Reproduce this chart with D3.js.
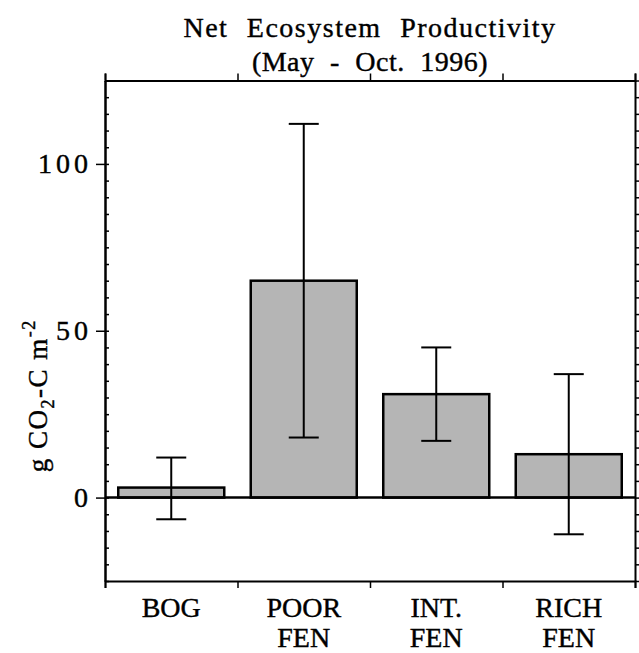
<!DOCTYPE html>
<meta charset="utf-8">
<style>
body { margin: 0; background: #fff; }
svg text { font-family: "Liberation Serif", "Times New Roman", serif; fill: #000; stroke: #000; stroke-width: 0.4px; }
</style>
<svg id="chart" width="639" height="653"></svg>
<script src="https://cdn.jsdelivr.net/npm/d3@7"></script>
<script>

// values
var sites = ["BOG", "POOR FEN", "INT. FEN", "RICH FEN"];
var siteLines = [["BOG"], ["POOR", "FEN"], ["INT.", "FEN"], ["RICH", "FEN"]];
var nep = [3, 65, 31, 13];
var errTop = [12, 112, 45, 37];
var errBottom = [-6.5, 18, 17, -11];
var majorTicks = [0, 50, 100];

var svg = d3.select("#chart"),
    margin = {top: 80.5, right: 4, bottom: 72, left: 105},
    width = +svg.attr("width") - margin.left - margin.right,
    height = +svg.attr("height") - margin.top - margin.bottom;

var x = d3.scaleBand()
    .domain(sites)
    .range([0, width])
    .paddingInner(0.2)
    .paddingOuter(0.1);

// edges of the category cells, for the top/bottom tick marks
var xEdge = d3.scaleLinear().domain([0, sites.length]).range([0, width]);

var y = d3.scaleLinear()
    .domain([-25, 125])
    .range([height, 0]);

var defs = svg.append("defs");
var pat = defs.append("pattern")
    .attr("id", "stipple")
    .attr("width", 2).attr("height", 2)
    .attr("patternUnits", "userSpaceOnUse");
pat.append("rect").attr("width", 2).attr("height", 2).attr("fill", "#dcdcdc");
pat.append("rect").attr("width", 1).attr("height", 1).attr("fill", "#8e8e8e");
pat.append("rect").attr("x", 1).attr("y", 1).attr("width", 1).attr("height", 1).attr("fill", "#8e8e8e");

var g = svg.append("g")
    .attr("transform", "translate(" + margin.left + "," + margin.top + ")");

// title, two lines
var cx = margin.left + width / 2;
svg.append("text")
    .attr("x", cx).attr("y", 37)
    .attr("text-anchor", "middle")
    .style("font-size", "28px")
    .style("letter-spacing", "1.5px")
    .style("word-spacing", "10px")
    .text("Net Ecosystem Productivity");
svg.append("text")
    .attr("x", cx).attr("y", 71)
    .attr("text-anchor", "middle")
    .style("font-size", "28px")
    .style("letter-spacing", "0.5px")
    .style("word-spacing", "8px")
    .text("(May - Oct. 1996)");

// bars
g.selectAll(".bar")
    .data(nep)
  .enter().append("rect")
    .attr("class", "bar")
    .attr("x", function(d, i) { return x(sites[i]); })
    .attr("width", x.bandwidth())
    .attr("y", function(d) { return y(Math.max(0, d)); })
    .attr("height", function(d) { return Math.abs(y(d) - y(0)); })
    .attr("fill", "url(#stipple)")
    .attr("stroke", "#000")
    .attr("stroke-width", 2.5);

// zero line
g.append("line")
    .attr("x1", 0).attr("x2", width)
    .attr("y1", y(0)).attr("y2", y(0))
    .attr("stroke", "#000")
    .attr("stroke-width", 2.5);

// error bars
var capHalf = 15;
var err = g.selectAll(".err")
    .data(sites)
  .enter().append("g")
    .attr("class", "err")
    .attr("transform", function(d) { return "translate(" + (x(d) + x.bandwidth() / 2) + ",0)"; })
    .attr("stroke", "#000")
    .attr("stroke-width", 2);

err.append("line")
    .attr("y1", function(d, i) { return y(errTop[i]); })
    .attr("y2", function(d, i) { return y(errBottom[i]); });
err.append("line")
    .attr("x1", -capHalf).attr("x2", capHalf)
    .attr("y1", function(d, i) { return y(errTop[i]); })
    .attr("y2", function(d, i) { return y(errTop[i]); });
err.append("line")
    .attr("x1", -capHalf).attr("x2", capHalf)
    .attr("y1", function(d, i) { return y(errBottom[i]); })
    .attr("y2", function(d, i) { return y(errBottom[i]); });

// frame: top and bottom with ticks at the cell edges
var edgeTicks = d3.range(sites.length + 1);
g.append("g")
    .attr("class", "axis")
    .call(d3.axisTop(xEdge).tickValues(edgeTicks).tickSize(7).tickFormat(""));
g.append("g")
    .attr("class", "axis")
    .attr("transform", "translate(0," + height + ")")
    .call(d3.axisBottom(xEdge).tickValues(edgeTicks).tickSize(7).tickFormat(""));

// left: minor ticks every 5 pointing in, major ticks pointing out
var minor = d3.range(-25, 126, 5);
g.append("g")
    .attr("class", "axis")
    .call(d3.axisRight(y).tickValues(minor).tickSize(4).tickSizeOuter(0).tickFormat(""));
g.append("g")
    .attr("class", "axis major")
    .call(d3.axisLeft(y).tickValues(majorTicks).tickSize(9).tickSizeOuter(0).tickPadding(4));

// right side
g.append("g")
    .attr("class", "axis")
    .attr("transform", "translate(" + width + ",0)")
    .call(d3.axisRight(y).tickValues(minor).tickSize(5).tickSizeOuter(0).tickFormat(""));

g.selectAll(".axis path").attr("stroke-width", 2);
g.selectAll(".axis line").attr("stroke-width", 1.5);
g.selectAll(".major text")
    .attr("fill", "#000")
    .style("font-size", "28px")
    .style("letter-spacing", "4px")
    .style("font-family", "'Liberation Serif', serif");

// category labels
var lab = g.selectAll(".site")
    .data(sites)
  .enter().append("text")
    .attr("class", "site")
    .attr("text-anchor", "middle")
    .style("font-size", "28px");
lab.selectAll("tspan")
    .data(function(d, i) { return siteLines[i]; })
  .enter().append("tspan")
    .attr("x", function() { var s = d3.select(this.parentNode).datum(); return x(s) + x.bandwidth() / 2; })
    .attr("y", function(d, i) { return height + 36 + i * 30; })
    .text(function(d) { return d; });

// y axis title
var yt = svg.append("text")
    .attr("transform", "translate(47," + (margin.top + y(30.5)) + ") rotate(-90)")
    .attr("text-anchor", "middle")
    .style("font-size", "27px")
    .style("letter-spacing", "1.5px");
yt.append("tspan").text("g CO");
yt.append("tspan").attr("dy", 7).style("font-size", "18px").text("2");
yt.append("tspan").attr("dy", -7).text("-C m");
yt.append("tspan").attr("dy", -12).style("font-size", "18px").text("-2");

</script>
